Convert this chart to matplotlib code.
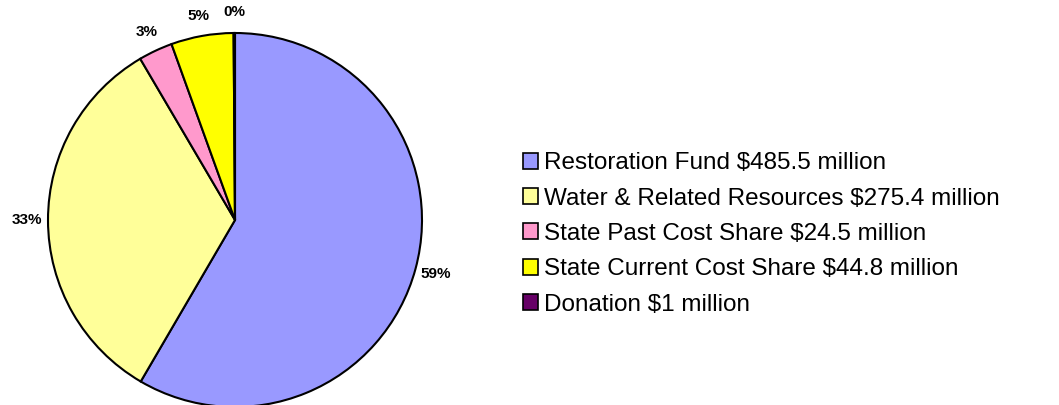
import matplotlib.pyplot as plt
from matplotlib.patches import Patch

plt.rcParams['font.family'] = ['Liberation Sans', 'DejaVu Sans']

categories = [
    "Restoration Fund $485.5 million",
    "Water & Related Resources $275.4 million",
    "State Past Cost Share $24.5 million",
    "State Current Cost Share $44.8 million",
    "Donation $1 million",
]
values = [485.5, 275.4, 24.5, 44.8, 1.0]
pct_labels = ["59%", "33%", "3%", "5%", "0%"]
colors = ["#9999FF", "#FFFF99", "#FF99CC", "#FFFF00", "#660066"]

fig = plt.figure(figsize=(10.59, 4.05), dpi=100)

# pie centre at (235, 220) px from top-left, radius ~187 px
cx, cy, r = 235, 405 - 220, 187
ax = fig.add_axes([(cx - r) / 1059, (cy - r) / 405, 2 * r / 1059, 2 * r / 405])

wedges, texts = ax.pie(values, labels=pct_labels, colors=colors,
                       startangle=90, counterclock=False,
                       labeldistance=1.11,
                       wedgeprops=dict(edgecolor='black', linewidth=1.5),
                       textprops=dict(fontsize=11, fontweight='bold'))
for t in texts:
    t.set_ha('center')
    t.set_va('center')
ax.set_xlim(-1, 1)
ax.set_ylim(-1, 1)
ax.set_aspect('equal')

handles = [Patch(facecolor=c, edgecolor='black', linewidth=1.2) for c in colors]
fig.legend(handles, categories, loc='center left',
           bbox_to_anchor=(523 / 1059, 171 / 405), frameon=False,
           fontsize=17.5, handlelength=0.63, handleheight=0.63,
           handletextpad=0.25, labelspacing=0.55,
           borderpad=0, borderaxespad=0)

fig.savefig("out.png", dpi=100)
